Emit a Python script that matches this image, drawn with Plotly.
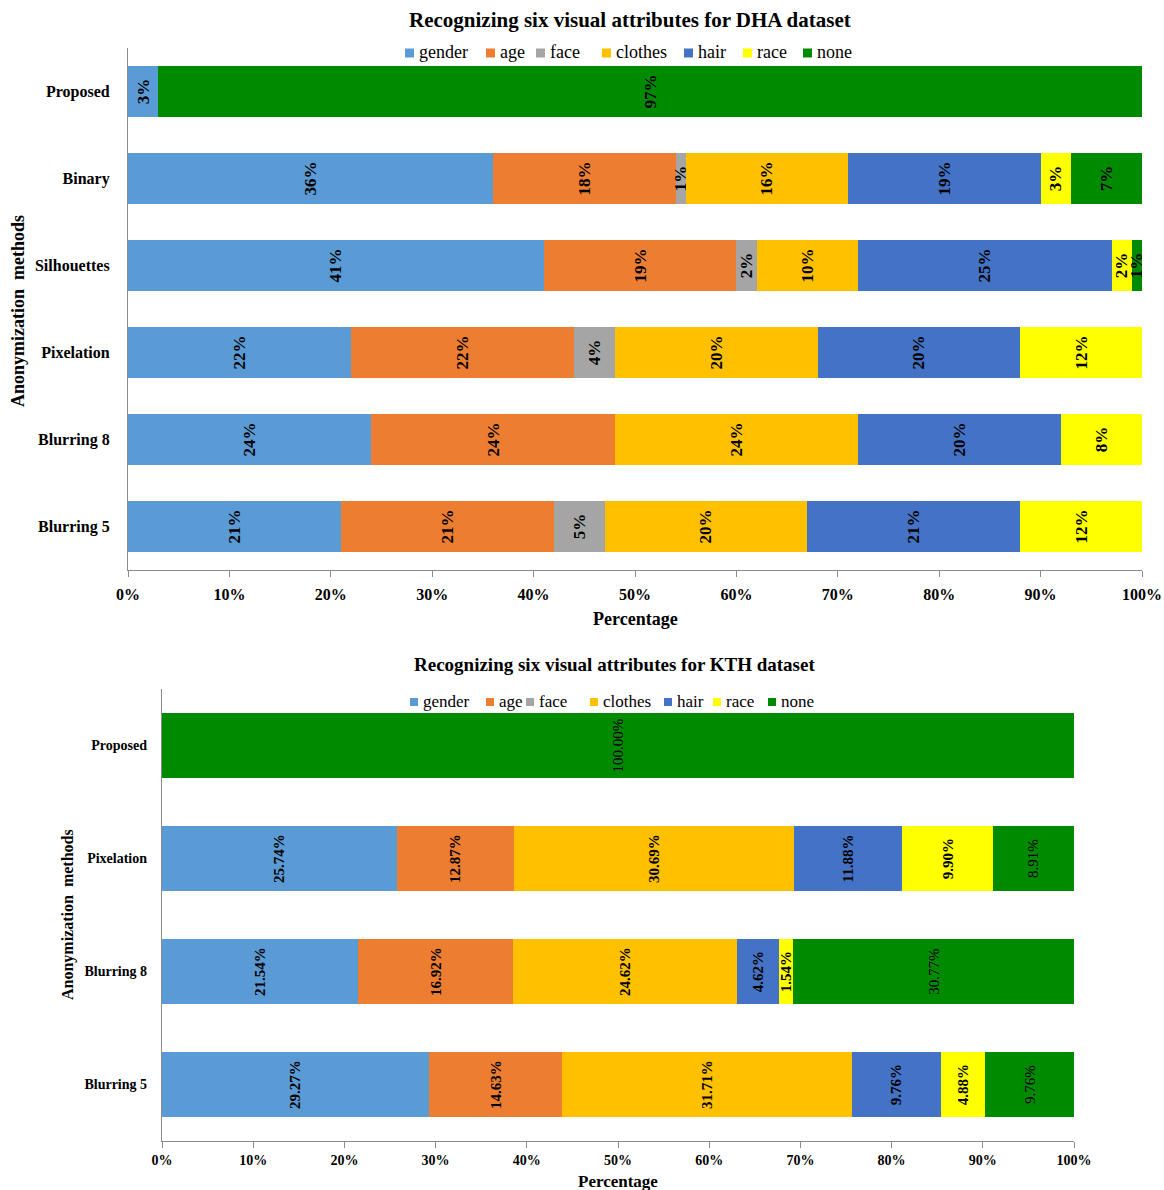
import plotly.graph_objects as go

# ---- data ----
attributes = ["gender", "age", "face", "clothes", "hair", "race", "none"]
colors = ["#5B9BD5", "#ED7D31", "#A5A5A5", "#FFC000", "#4472C4", "#FFFF00", "#008A00"]

dha_methods = ["Blurring 5", "Blurring 8", "Pixelation", "Silhouettes", "Binary", "Proposed"]
dha_gender = [21, 24, 22, 41, 36, 3]
dha_age = [21, 24, 22, 19, 18, 0]
dha_face = [5, 0, 4, 2, 1, 0]
dha_clothes = [20, 24, 20, 10, 16, 0]
dha_hair = [21, 20, 20, 25, 19, 0]
dha_race = [12, 8, 12, 2, 3, 0]
dha_none = [0, 0, 0, 1, 7, 97]

kth_methods = ["Blurring 5", "Blurring 8", "Pixelation", "Proposed"]
kth_gender = [29.27, 21.54, 25.74, 0]
kth_age = [14.63, 16.92, 12.87, 0]
kth_face = [0, 0, 0, 0]
kth_clothes = [31.71, 24.62, 30.69, 0]
kth_hair = [9.76, 4.62, 11.88, 0]
kth_race = [4.88, 1.54, 9.90, 0]
kth_none = [9.76, 30.77, 8.91, 100.00]

x_ticks = [0, 10, 20, 30, 40, 50, 60, 70, 80, 90, 100]

dha_series = [dha_gender, dha_age, dha_face, dha_clothes, dha_hair, dha_race, dha_none]
kth_series = [kth_gender, kth_age, kth_face, kth_clothes, kth_hair, kth_race, kth_none]

FONT = "Liberation Serif"
W, H = 1164, 1190


def px_x(p):
    return p / W


def px_y(p):
    return 1 - p / H


fig = go.Figure()

for name, color, vals in zip(attributes, colors, dha_series):
    fig.add_trace(go.Bar(
        y=dha_methods, x=vals, orientation="h", name=name, showlegend=False,
        marker=dict(color=color, line=dict(width=0)),
        text=[f"{v:.0f}%" if v > 0 else "" for v in vals],
        textposition="inside", insidetextanchor="middle", textangle=-90,
        constraintext="none",
        textfont=dict(family=FONT, size=17, color="black", weight="bold"),
        xaxis="x", yaxis="y", hoverinfo="skip",
    ))

for name, color, vals in zip(attributes, colors, kth_series):
    fig.add_trace(go.Bar(
        y=kth_methods, x=vals, orientation="h", name=name, showlegend=False,
        marker=dict(color=color, line=dict(width=0)),
        text=[f"{v:.2f}%" if v > 0 else "" for v in vals],
        textposition="inside", insidetextanchor="middle", textangle=-90,
        constraintext="none",
        textfont=dict(family=FONT, size=15, color="black",
                      weight="normal" if name == "none" else "bold"),
        xaxis="x2", yaxis="y2", hoverinfo="skip",
    ))

axis_common = dict(
    showgrid=False, zeroline=False, showline=True, linecolor="#8c8c8c",
    linewidth=1.3, automargin=False,
)

fig.update_layout(
    width=W, height=H,
    margin=dict(l=0, r=0, t=0, b=0),
    paper_bgcolor="white", plot_bgcolor="white",
    barmode="stack", bargap=0.425, showlegend=False,
    font=dict(family=FONT, color="black"),
    xaxis=dict(domain=[px_x(128), px_x(1142)], anchor="y", range=[0, 100],
               tickvals=x_ticks, ticktext=[f"{t}%" for t in x_ticks],
               ticks="outside", ticklen=6, tickcolor="#8c8c8c", ticklabelstandoff=4,
               tickfont=dict(family=FONT, size=16, weight="bold"), **axis_common),
    yaxis=dict(domain=[px_y(570), px_y(48)], anchor="x", range=[-0.5, 5.5],
               categoryorder="array", categoryarray=dha_methods,
               ticks="", ticklabelstandoff=14,
               tickfont=dict(family=FONT, size=16, weight="bold"), **axis_common),
    xaxis2=dict(domain=[px_x(162), px_x(1074)], anchor="y2", range=[0, 100],
                tickvals=x_ticks, ticktext=[f"{t}%" for t in x_ticks],
                ticks="outside", ticklen=6, tickcolor="#8c8c8c",
                tickfont=dict(family=FONT, size=14, weight="bold"), **axis_common),
    yaxis2=dict(domain=[px_y(1141), px_y(689)], anchor="x2", range=[-0.5, 3.5],
                categoryorder="array", categoryarray=kth_methods,
                ticks="", ticklabelstandoff=11,
                tickfont=dict(family=FONT, size=14, weight="bold"), **axis_common),
)

annotations = [
    dict(text="Recognizing six visual attributes for DHA dataset", x=px_x(630), y=px_y(20),
         font=dict(family=FONT, size=21, weight="bold")),
    dict(text="Percentage", x=px_x(636), y=px_y(619),
         font=dict(family=FONT, size=18, weight="bold")),
    dict(text="Anonymization  methods", x=px_x(18), y=px_y(311), textangle=-90,
         font=dict(family=FONT, size=18, weight="bold")),
    dict(text="Recognizing six visual attributes for KTH dataset", x=px_x(614), y=px_y(664),
         font=dict(family=FONT, size=19, weight="bold")),
    dict(text="Percentage", x=px_x(618), y=px_y(1181),
         font=dict(family=FONT, size=17, weight="bold")),
    dict(text="Anonymization  methods", x=px_x(68), y=px_y(915), textangle=-90,
         font=dict(family=FONT, size=16, weight="bold")),
]
for a in annotations:
    fig.add_annotation(xref="paper", yref="paper", showarrow=False,
                       xanchor="center", yanchor="middle", **a)

# Compact legend rows: square key followed closely by the attribute name
legend_rows = [
    dict(y=52, size=18, key=9, left=[405, 486, 536, 602, 684, 743, 803]),
    dict(y=701, size=17, key=8, left=[410, 486, 526, 590, 664, 713, 768]),
]
for row in legend_rows:
    for name, color, x0 in zip(attributes, colors, row["left"]):
        k = row["key"]
        fig.add_shape(type="rect", xref="paper", yref="paper",
                      x0=px_x(x0), x1=px_x(x0 + k),
                      y0=px_y(row["y"] + k / 2 + 1), y1=px_y(row["y"] - k / 2 + 1),
                      fillcolor=color, line=dict(width=0))
        fig.add_annotation(xref="paper", yref="paper", showarrow=False,
                           x=px_x(x0 + k + 3), y=px_y(row["y"]),
                           xanchor="left", yanchor="middle", text=name,
                           font=dict(family=FONT, size=row["size"]))

fig.write_html("out.html")
